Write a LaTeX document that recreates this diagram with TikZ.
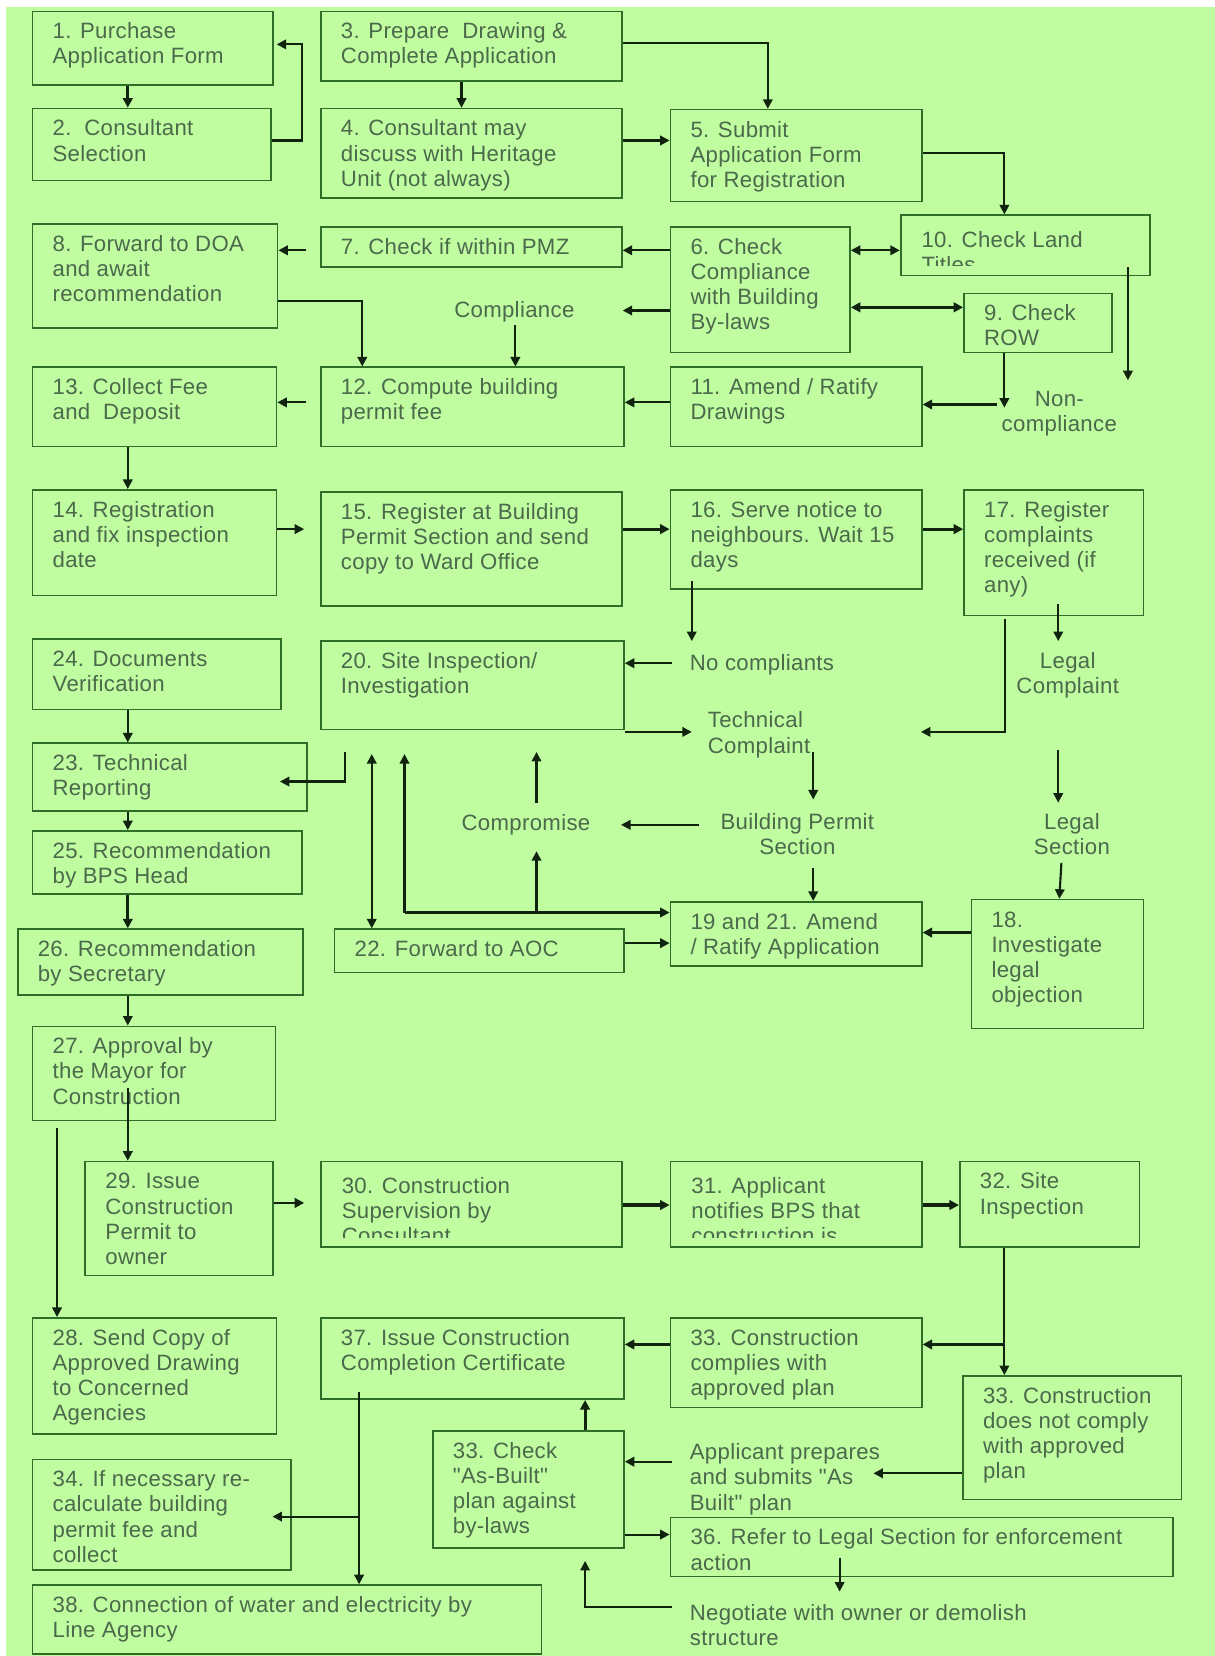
\documentclass[tikz,border=0pt]{standalone}
\usepackage{fontspec}
\setmainfont{Liberation Sans}[LetterSpace=1.5,Ligatures=TeXOff]
\usetikzlibrary{arrows.meta,calc}
\definecolor{bg}{RGB}{192,252,160}
\definecolor{boxc}{RGB}{45,110,40}
\definecolor{txtc}{RGB}{75,105,75}
\definecolor{arrc}{RGB}{15,35,15}
\newcommand\bxfont{\fontsize{21}{23.8}\selectfont}
\newcommand\bxtxt[1]{\vspace*{9.3pt}\raggedright\leftskip=19pt\relax\strut #1}
% name, x1, y1, x2, y2, text
\newcommand\bx[6]{\node[box] (#1) at (#2,#3) {\parbox[t][\dimexpr#5pt-#3pt\relax][t]{\dimexpr#4pt-#2pt\relax}{\bxtxt{#6}}};}
% clipped variant
\newcommand\bxc[6]{\node[box,minimum width={#4-#2},minimum height={#5-#3},
  path picture={\node[draw=none,fill=none,anchor=north west,inner sep=0pt,text=txtc,font=\bxfont] at (path picture bounding box.north west) {\parbox[t]{\dimexpr#4pt-#2pt\relax}{\bxtxt{#6}}};
  \fill[bg] (path picture bounding box.south west) rectangle ([yshift=9pt]path picture bounding box.south east);}] (#1) at (#2,#3) {};}
\newcommand\lbC[4]{\node[lbl,anchor=north] (#1) at (#2,{#3-16.66}) {\parbox[t]{170pt}{\centering\strut #4}};}
\newcommand\lbL[4]{\node[lbl,anchor=north west] (#1) at (#2,{#3-16.66}) {\parbox[t]{360pt}{\raggedright\strut #4}};}
\begin{document}
\begin{tikzpicture}[x=1pt,y=-1pt,
  box/.style={draw=boxc,line width=1.6pt,inner sep=0pt,anchor=north west,text=txtc,font=\bxfont},
  lbl/.style={inner sep=0pt,text=txtc,font=\bxfont},
  arr/.style={draw=arrc,line width=2pt,-{Triangle[length=9pt,width=9pt]}},
  arrT/.style={arr,line width=3pt},
  darr/.style={arr,{Triangle[length=9pt,width=9pt]}-{Triangle[length=9pt,width=9pt]}}]
\useasboundingbox (0,0) rectangle (1150,1568);
\fill[white] (0,0) rectangle (1150,1568);
\fill[bg] (6,7) rectangle (1150,1568);

% boxes
\bx{n1}{30}{10}{258}{80}{1. Purchase\\Application Form}
\bx{n2}{30}{102}{256}{170}{2.\ \ Consultant\\Selection}
\bx{n3}{303}{10}{588}{76}{3. Prepare\ \ Drawing \&\\Complete Application}
\bx{n4}{303}{102}{588}{187}{4. Consultant may\\discuss with Heritage\\Unit (not always)}
\bx{n5}{634}{103}{872}{190}{5. Submit\\Application Form\\for Registration}
\bxc{n10}{852}{203}{1088}{260}{10. Check Land\\Titles}
\bx{n6}{634}{214}{804}{333}{6. Check\\Compliance\\with Building\\By-laws}
\bx{n7}{303}{214}{588}{252}{7. Check if within PMZ}
\bx{n8}{30}{211}{262}{310}{8. Forward to DOA\\and await\\recommendation}
\bx{n9}{912}{277}{1052}{333}{9. Check\\ROW}
\bx{n12}{303}{347}{590}{422}{12. Compute building\\permit fee}
\bx{n13}{30}{347}{261}{422}{13. Collect Fee\\and\ \ Deposit}
\bx{n11}{634}{347}{872}{422}{11. Amend / Ratify\\Drawings}
\bx{n14}{30}{463}{261}{563}{14. Registration\\and fix inspection\\date}
\bx{n15}{303}{465}{588}{573}{15. Register at Building\\Permit Section and send\\copy to Ward Office}
\bx{n16}{634}{463}{872}{557}{16. Serve notice to\\neighbours. Wait 15\\days}
\bx{n17}{912}{463}{1082}{582}{17. Register\\complaints\\received (if\\any)}
\bx{n24}{30}{604}{265}{671}{24. Documents\\Verification}
\bx{n20}{303}{606}{590}{690}{20. Site Inspection/\\Investigation}
\bx{n23}{30}{703}{290}{767}{23. Technical\\Reporting}
\bx{n25}{30}{786}{285}{846}{25. Recommendation\\by BPS Head}
\bx{n26}{16}{879}{286}{941}{26. Recommendation\\by Secretary}
\bx{n22}{316}{879}{590}{920}{22. Forward to AOC}
\bx{n1921}{634}{853}{872}{914}{19 and 21. Amend\\/ Ratify Application}
\bx{n18}{919}{851}{1082}{973}{18.\\Investigate\\legal\\objection}
\bx{n27}{30}{971}{260}{1060}{27. Approval by\\the Mayor for\\Construction}
\bx{n29}{80}{1099}{258}{1207}{29. Issue\\Construction\\Permit to\\owner}
\bxc{n30}{303}{1099}{588}{1180}{30. Construction\\Supervision by\\Consultant}
\bxc{n31}{634}{1099}{872}{1180}{31. Applicant\\notifies BPS that\\construction is}
\bx{n32}{908}{1099}{1078}{1180}{32. Site\\Inspection}
\bx{n28}{30}{1247}{261}{1357}{28. Send Copy of\\Approved Drawing\\to Concerned\\Agencies}
\bx{n37}{303}{1247}{590}{1324}{37. Issue Construction\\Completion Certificate}
\bx{n33a}{634}{1247}{872}{1332}{33. Construction\\complies with\\approved plan}
\bx{n33b}{911}{1302}{1118}{1419}{33. Construction\\does not comply\\with approved\\plan}
\bx{n34}{30}{1381}{275}{1486}{34. If necessary re-\\calculate building\\permit fee and\\collect}
\bx{n33c}{409}{1354}{590}{1465}{33. Check\\"As-Built"\\plan against\\by-laws}
\bx{n36}{634}{1436}{1110}{1492}{36. Refer to Legal Section for enforcement\\action}
\bx{n38}{30}{1500}{512}{1565}{38. Connection of water and electricity by\\Line Agency}

% labels
\lbC{comp}{487}{300}{Compliance}
\lbC{noncomp}{1003}{385}{Non-\\compliance}
\lbL{nocomp}{653}{635}{No compliants}
\lbC{legcomp}{1011}{633}{Legal\\Complaint}
\lbL{techcomp}{670}{689}{Technical\\Complaint}
\lbC{compro}{498}{786}{Compromise}
\lbC{bps}{755}{785}{Building Permit\\Section}
\lbC{legsec}{1015}{785}{Legal\\Section}
\lbL{appprep}{653}{1382}{Applicant prepares\\and submits "As\\Built" plan}
\lbL{nego}{653}{1534}{Negotiate with owner or demolish\\structure}

% connectors
\draw[arrT] (121,0 |- n1.south) -- (121,0 |- n2.north);
\draw[arr] (n2.east |- 0,133) -| (286,42) -- (262,42);
\draw[arr] (437,0 |- n3.south) -- (437,0 |- n4.north);
\draw[arr] (n3.east |- 0,41) -| (727,0 |- n5.north);
\draw[arrT] (n4.east |- 0,133) -- (n5.west |- 0,133);
\draw[arr] (n5.east |- 0,145) -| (951,0 |- n10.north);
\draw[darr] (n6.east |- 0,237) -- (n10.west |- 0,237);
\draw[arr] (n6.west |- 0,237) -- (n7.east |- 0,237);
\draw[arr] (290,237) -- (n8.east |- 0,237);
\draw[arr] (n6.west |- 0,294) -- (n7.east |- 0,294);
\draw[darr,line width=3pt] (n6.east |- 0,291) -- (n9.west |- 0,291);
\draw[arr] (n8.east |- 0,285) -| (343,0 |- n12.north);
\draw[arr] (488,0 |- comp.south) -- (488,0 |- n12.north);
\draw[arr] (951,0 |- n9.south) -- (951,386);
\draw[arr] (1068,253) -- (1068,360);
\draw[arr] (944,383) -- (n11.east |- 0,383);
\draw[arr] (n11.west |- 0,381) -- (n12.east |- 0,381);
\draw[arr] (290,381) -- (n13.east |- 0,381);
\draw[arr] (121,0 |- n13.south) -- (121,0 |- n14.north);
\draw[arr] (n14.east |- 0,501) -- (288,501);
\draw[arrT] (n15.east |- 0,501) -- (n16.west |- 0,501);
\draw[arrT] (n16.east |- 0,501) -- (n17.west |- 0,501);
\draw[arr] (655,550) -- (655,607);
\draw[arr] (636,628) -- (n20.east |- 0,628);
\draw[arr] (n20.east |- 0,693) -- (655,693);
\draw[arr] (952,586) |- (872,693);
\draw[arr] (1002,572) -- (1002,607);
\draw[arr] (1002,710) -- (1002,760);
\draw[arr] (770,712) -- (770,757);
\draw[arr] (662,781) -- (588,781);
\draw[arr] (1005,817) -- (1003,0 |- n18.north);
\draw[arr] (770,822) -- (770,0 |- n1921.north);
\draw[arrT] (n18.west |- 0,883) -- (n1921.east |- 0,883);
\draw[arr] (n22.east |- 0,893) -- (n1921.west |- 0,893);
\draw[arr] (508,760) -- (508,712);
\draw[arr] (383,864) -- (383,714);
\draw[arr] (383,864) -- (n1921.west |- 0,864);
\draw[arr] (508,864) -- (508,806);
\draw[darr] (352,714) -- (352,0 |- n22.north);
\draw[arr] (327,712) |- (265,740);
\draw[arr] (121,0 |- n24.south) -- (121,0 |- n23.north);
\draw[arr] (121,0 |- n23.south) -- (121,0 |- n25.north);
\draw[arrT] (121,0 |- n25.south) -- (121,0 |- n26.north);
\draw[arr] (121,0 |- n26.south) -- (121,0 |- n27.north);
\draw[arr] (121,1030) -- (121,0 |- n29.north);
\draw[arr] (54,1068) -- (54,0 |- n28.north);
\draw[arr] (n29.east |- 0,1139) -- (288,1139);
\draw[arrT] (n30.east |- 0,1141) -- (n31.west |- 0,1141);
\draw[arrT] (n31.east |- 0,1141) -- (n32.west |- 0,1141);
\draw[arr] (951,0 |- n32.south) -- (951,0 |- n33b.north);
\draw[arrT] (951,1273) -- (n33a.east |- 0,1273);
\draw[arr] (n33a.west |- 0,1273) -- (n37.east |- 0,1273);
\draw[arr] (n33b.west |- 0,1395) -- (827,1395);
\draw[arr] (636,1384) -- (n33c.east |- 0,1384);
\draw[arrT] (554,0 |- n33c.north) -- (554,0 |- n37.south);
\draw[arr] (n33c.east |- 0,1453) -- (n36.west |- 0,1453);
\draw[arr] (795,1475) -- (795,1507);
\draw[arr] (636,1522) -| (554,1478);
\draw[arr] (340,1318) -- (340,0 |- n38.north);
\draw[arr] (340,1436) -- (258,1436);
\end{tikzpicture}
\end{document}
